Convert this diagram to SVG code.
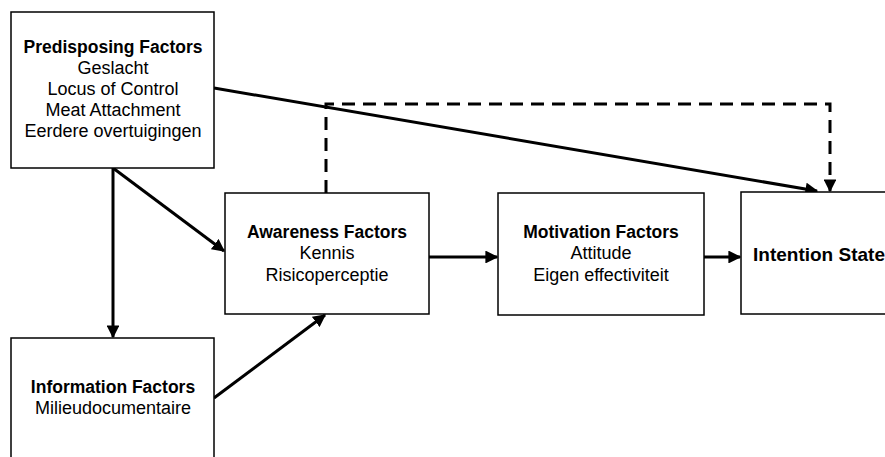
<svg xmlns="http://www.w3.org/2000/svg" width="885" height="457" viewBox="0 0 885 457">
<style>
.box{fill:#fff;stroke:#000;stroke-width:1.5}
.t{font-family:"Liberation Sans",Arial,sans-serif;font-size:18px;fill:#000;text-anchor:middle}
.b{font-weight:bold;font-size:17.5px}
.c{fill:none;stroke:#000;stroke-width:3}
.d{stroke-dasharray:13,8}
</style>
<defs>
<marker id="ah" viewBox="0 0 10 10" refX="9" refY="5" markerWidth="4.3" markerHeight="4.3" markerUnits="strokeWidth" orient="auto">
<path d="M0,0 L10,5 L0,10 Z" fill="#000"/>
</marker>
</defs>
<rect width="885" height="457" fill="#fff"/>
<g id="connectors">
<path class="c" d="M214,88 L817,191" marker-end="url(#ah)"/>
<path class="c d" d="M326,193 L326,104 L830,104 L830,191" marker-end="url(#ah)"/>
<path class="c" d="M113,168 L224,251" marker-end="url(#ah)"/>
<path class="c" d="M113,168 L113,337" marker-end="url(#ah)"/>
<path class="c" d="M214,398 L325,315" marker-end="url(#ah)"/>
<path class="c" d="M429,257 L497,257" marker-end="url(#ah)"/>
<path class="c" d="M704,257 L740,257" marker-end="url(#ah)"/>
</g>
<g id="predisposing">
<rect class="box" x="11" y="12" width="203" height="156"/>
<text class="t b" x="113" y="53">Predisposing Factors</text>
<text class="t" x="113" y="74">Geslacht</text>
<text class="t" x="113" y="95">Locus of Control</text>
<text class="t" x="113" y="116">Meat Attachment</text>
<text class="t" x="113" y="137">Eerdere overtuigingen</text>
</g>
<g id="awareness">
<rect class="box" x="225" y="193" width="204" height="121"/>
<text class="t b" x="327" y="238">Awareness Factors</text>
<text class="t" x="327" y="259">Kennis</text>
<text class="t" x="327" y="281">Risicoperceptie</text>
</g>
<g id="motivation">
<rect class="box" x="498" y="193" width="206" height="122"/>
<text class="t b" x="601" y="238">Motivation Factors</text>
<text class="t" x="601" y="259">Attitude</text>
<text class="t" x="601" y="281">Eigen effectiviteit</text>
</g>
<g id="intention">
<rect class="box" x="741" y="192" width="160" height="122"/>
<text class="t b" x="753" y="261" style="text-anchor:start;font-size:19px">Intention State</text>
</g>
<g id="information">
<rect class="box" x="11" y="338" width="203" height="130"/>
<text class="t b" x="113" y="393">Information Factors</text>
<text class="t" x="113" y="414">Milieudocumentaire</text>
</g>
</svg>
